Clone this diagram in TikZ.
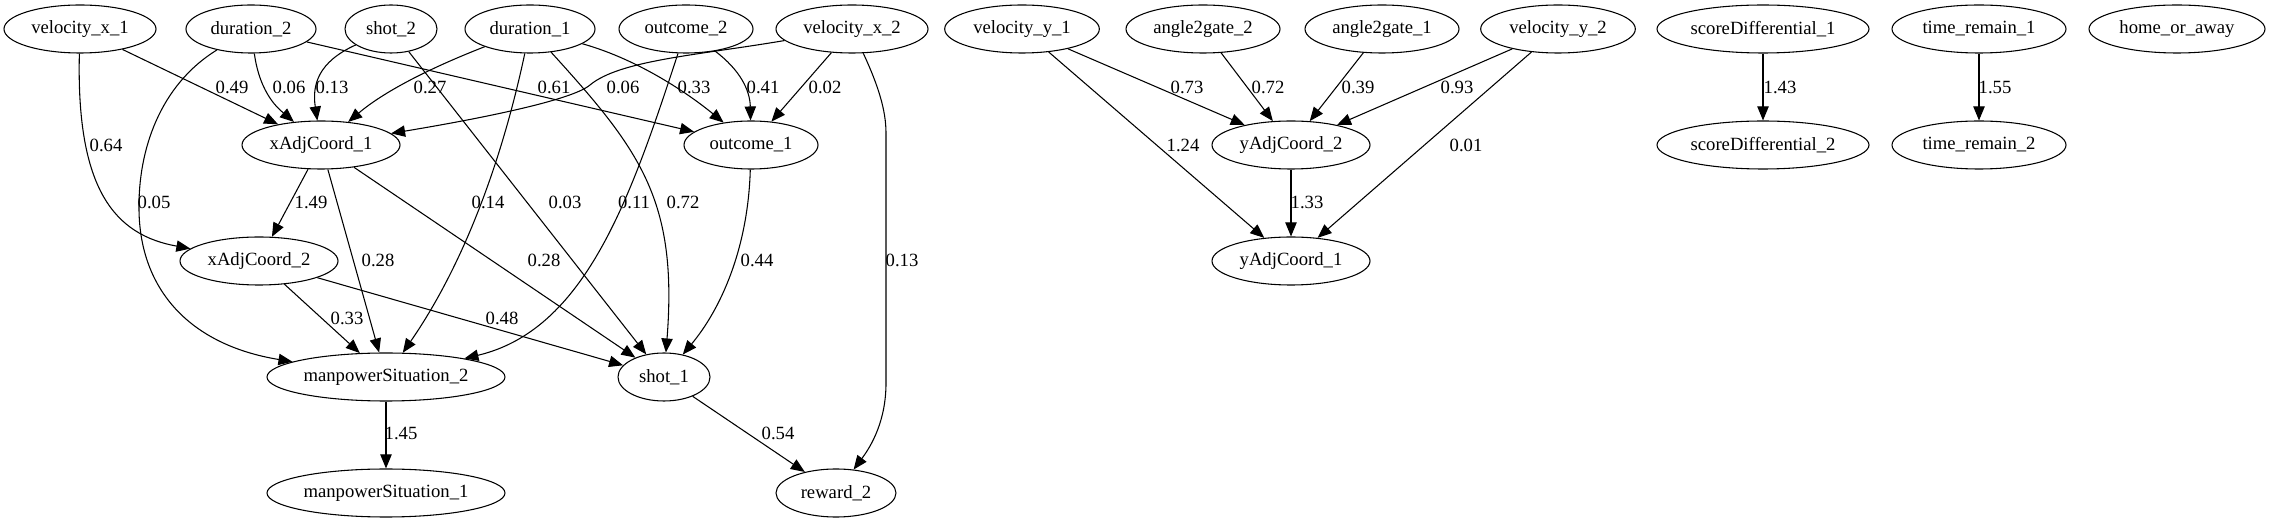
\documentclass[tikz,border=0pt]{standalone}
\usepackage{fontspec}
\setmainfont{Liberation Serif}
\usetikzlibrary{shapes.geometric,arrows.meta}
\begin{document}
\begin{tikzpicture}[x=0.75pt,y=-0.75pt,
  gv/.style={draw,ellipse,inner sep=0pt,minimum height=36pt,line width=0.8pt,font=\fontsize{14pt}{16pt}\selectfont},
  lbl/.style={inner sep=0pt,font=\fontsize{14pt}{16pt}\selectfont},
  arr/.style={draw,line width=0.8pt,-{Triangle[length=10.5pt,width=8.5pt]}}]
\path[fill=white,use as bounding box] (0,0) rectangle (2271,523);
% row 1
\node[gv,minimum width=114pt]   (vx1)   at (80,29)   {velocity\_x\_1};
\node[gv,minimum width=97.5pt]  (dur2)  at (251,29)  {duration\_2};
\node[gv,minimum width=69pt]    (shot2) at (391,29)  {shot\_2};
\node[gv,minimum width=97.5pt]  (dur1)  at (530,29)  {duration\_1};
\node[gv,minimum width=100.5pt] (out2)  at (686,29)  {outcome\_2};
\node[gv,minimum width=114pt]   (vx2)   at (852,29)  {velocity\_x\_2};
\node[gv,minimum width=116pt]   (vy1)   at (1022,29) {velocity\_y\_1};
\node[gv,minimum width=115.5pt] (a2g2)  at (1203,29) {angle2gate\_2};
\node[gv,minimum width=115.5pt] (a2g1)  at (1382,29) {angle2gate\_1};
\node[gv,minimum width=116pt]   (vy2)   at (1558,29) {velocity\_y\_2};
\node[gv,minimum width=159pt]   (sd1)   at (1763,29) {scoreDifferential\_1};
\node[gv,minimum width=130.5pt] (tr1)   at (1979,29) {time\_remain\_1};
\node[gv,minimum width=132pt]   (hoa)   at (2177,29) {home\_or\_away};
% row 2
\node[gv,minimum width=118.5pt] (xac1)  at (321,145)  {xAdjCoord\_1};
\node[gv,minimum width=100.5pt] (out1)  at (751,145)  {outcome\_1};
\node[gv,minimum width=118.5pt] (yac2)  at (1291,145) {yAdjCoord\_2};
\node[gv,minimum width=159pt]   (sd2)   at (1763,145) {scoreDifferential\_2};
\node[gv,minimum width=130.5pt] (tr2)   at (1979,145) {time\_remain\_2};
% row 3
\node[gv,minimum width=118.5pt] (xac2)  at (259,261)  {xAdjCoord\_2};
\node[gv,minimum width=118.5pt] (yac1)  at (1291,261) {yAdjCoord\_1};
% row 4
\node[gv,minimum width=178.5pt] (mp2)   at (386,377)  {manpowerSituation\_2};
\node[gv,minimum width=69pt]    (shot1) at (664,377)  {shot\_1};
% row 5
\node[gv,minimum width=178.5pt] (mp1)   at (386,493)  {manpowerSituation\_1};
\node[gv,minimum width=90pt]    (rw2)   at (836,493)  {reward\_2};
% edges
\draw[arr] (vx1) -- (xac1);
\draw[arr] (vx1) .. controls (76,190) and (115,235) .. (xac2);
\draw[arr] (dur2) .. controls (260,95) and (280,110) .. (xac1);
\draw[arr] (dur2) .. controls (160,85) and (138,150) .. (139,210) .. controls (140,290) and (190,345) .. (mp2);
\draw[arr] (dur2) -- (out1);
\draw[arr] (shot2) .. controls (318,62) and (312,85) .. (xac1);
\draw[arr] (shot2) -- (shot1);
\draw[arr] (dur1) .. controls (420,72) and (380,95) .. (xac1);
\draw[arr] (dur1) .. controls (500,170) and (460,270) .. (mp2);
\draw[arr] (dur1) .. controls (640,150) and (678,200) .. (shot1);
\draw[arr] (dur1) .. controls (640,60) and (690,95) .. (out1);
\draw[arr] (out2) .. controls (740,70) and (750,90) .. (out1);
\draw[arr] (out2) .. controls (630,200) and (585,330) .. (mp2);
\draw[arr] (vx2) .. controls (700,55) and (620,60) .. (590,85) .. controls (570,102) and (460,122) .. (xac1);
\draw[arr] (vx2) -- (out1);
\draw[arr] (vx2) .. controls (878,85) and (886,110) .. (886,133) -- (886,383) .. controls (886,420) and (872,445) .. (rw2);
\draw[arr] (xac1) -- (xac2);
\draw[arr] (xac1) -- (mp2);
\draw[arr] (xac1) -- (shot1);
\draw[arr] (xac2) -- (mp2);
\draw[arr] (xac2) -- (shot1);
\draw[arr] (out1) .. controls (748,250) and (720,310) .. (shot1);
\draw[arr] (shot1) -- (rw2);
\draw[arr] (mp2) -- (mp1);
\draw[arr] (vy1) -- (yac2);
\draw[arr] (vy1) -- (yac1);
\draw[arr] (a2g2) -- (yac2);
\draw[arr] (a2g1) -- (yac2);
\draw[arr] (vy2) -- (yac2);
\draw[arr] (vy2) -- (yac1);
\draw[arr] (yac2) -- (yac1);
\draw[arr] (sd1) -- (sd2);
\draw[arr] (tr1) -- (tr2);
% labels
\node[lbl] (l1)  at (232,87)  {0.49};
\node[lbl] (l2)  at (289,87)  {0.06};
\node[lbl] (l3)  at (332,87)  {0.13};
\node[lbl] (l4)  at (430,87)  {0.27};
\node[lbl] (l5)  at (554,87)  {0.61};
\node[lbl] (l6)  at (623,87)  {0.06};
\node[lbl] (l7)  at (694,87)  {0.33};
\node[lbl] (l8)  at (763,87)  {0.41};
\node[lbl] (l9)  at (825,87)  {0.02};
\node[lbl] (l10) at (1187,87) {0.73};
\node[lbl] (l11) at (1268,87) {0.72};
\node[lbl] (l12) at (1358,87) {0.39};
\node[lbl] (l13) at (1457,87) {0.93};
\node[lbl] (l14) at (1780,87) {1.43};
\node[lbl] (l15) at (1995,87) {1.55};
\node[lbl] (l16) at (106,145) {0.64};
\node[lbl] (l17) at (1183,145) {1.24};
\node[lbl] (l18) at (1466,145) {0.01};
\node[lbl] (l19) at (154,202) {0.05};
\node[lbl] (l20) at (311,202) {1.49};
\node[lbl] (l21) at (488,202) {0.14};
\node[lbl] (l22) at (565,202) {0.03};
\node[lbl] (l23) at (634,202) {0.11};
\node[lbl] (l24) at (683,202) {0.72};
\node[lbl] (l25) at (1307,202) {1.33};
\node[lbl] (l26) at (378,260) {0.28};
\node[lbl] (l27) at (544,260) {0.28};
\node[lbl] (l28) at (757,260) {0.44};
\node[lbl] (l29) at (902,260) {0.13};
\node[lbl] (l30) at (347,318) {0.33};
\node[lbl] (l31) at (502,318) {0.48};
\node[lbl] (l32) at (401,433) {1.45};
\node[lbl] (l33) at (778,433) {0.54};
\end{tikzpicture}
\end{document}
